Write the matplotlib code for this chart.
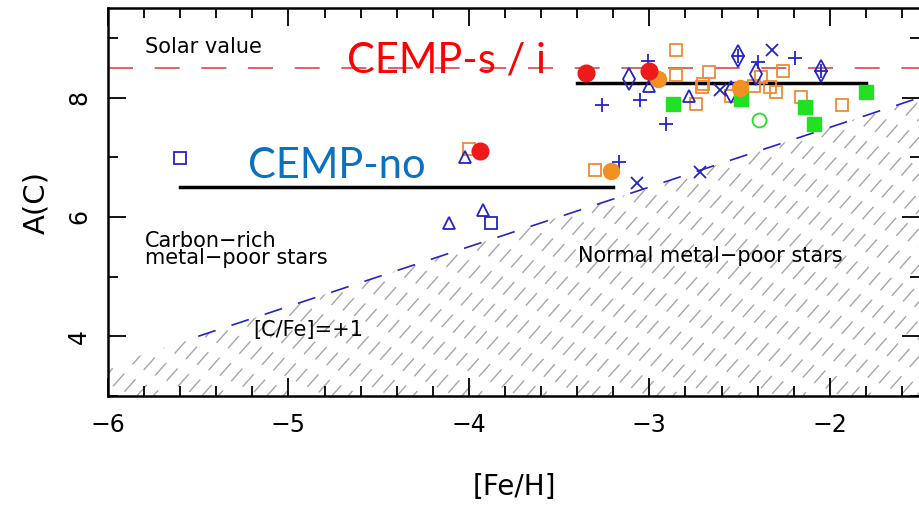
import numpy as np
import matplotlib
matplotlib.use("Agg")
import matplotlib.pyplot as plt
from matplotlib.patches import Polygon
from matplotlib.ticker import MultipleLocator

# carbon abundance A(C) against metallicity [Fe/H]
red_fe = [-3.35, -3.00, -3.94]
red_ac = [8.41, 8.44, 7.10]

orange_circ_fe = [-2.95, -2.50, -3.21]
orange_circ_ac = [8.31, 8.16, 6.77]

orange_sq_fe = [-2.85, -2.85, -2.74, -2.71, -2.70, -2.67, -2.55, -2.42,
                -2.38, -2.33, -2.30, -2.26, -2.16, -1.93, -4.00, -3.30]
orange_sq_ac = [8.80, 8.37, 7.89, 8.18, 8.23, 8.42, 8.03, 8.20,
                8.34, 8.17, 8.09, 8.44, 8.01, 7.87, 7.14, 6.78]

green_sq_fe = [-2.87, -2.49, -2.14, -2.09, -1.80]
green_sq_ac = [7.89, 7.98, 7.84, 7.55, 8.09]

green_open_fe = [-2.39]
green_open_ac = [7.62]

blue_plus_fe = [-3.01, -3.26, -3.05, -2.91, -2.40, -2.19, -3.17]
blue_plus_ac = [8.61, 7.87, 7.96, 7.56, 8.59, 8.66, 6.92]

blue_x_fe = [-2.61, -2.32, -3.07, -2.72]
blue_x_ac = [8.13, 8.80, 6.56, 6.75]

blue_tri_fe = [-2.78, -4.02, -4.11, -3.92, -3.00]
blue_tri_ac = [8.03, 7.00, 5.89, 6.11, 8.20]

blue_sq_fe = [-5.60, -3.88]
blue_sq_ac = [6.99, 5.90]

blue_dia_fe = [-3.11, -2.41, -2.55]
blue_dia_ac = [8.31, 8.40, 8.10]

blue_diaplus_fe = [-2.51, -2.05]
blue_diaplus_ac = [8.70, 8.44]

# mean levels of the two groups
cemp_s_range = [-3.40, -1.80]
cemp_s_level = 8.25
cemp_no_range = [-5.60, -3.20]
cemp_no_level = 6.50

solar_ac = 8.5
cfe_offset = 9.5   # A(C) = [Fe/H] + 9.5 for [C/Fe]=+1

xmin, xmax = -6.0, -1.5
ymin, ymax = 3.0, 9.5

BLUE = "#2424c4"
ORANGE = "#ef8a35"
GREEN = "#22e022"
RED = "#ee1a1a"

fig = plt.figure(figsize=(9.2, 5.09), dpi=100)
ax = fig.add_axes([108 / 920, 113 / 509, 1 - 108 / 920, (396 - 8) / 509])
ax.set_xlim(xmin, xmax)
ax.set_ylim(ymin, ymax)

# hatched zone below [C/Fe]=+1, drawn as broken diagonal strokes
region = Polygon([(xmin, ymin), (xmin, xmin + cfe_offset),
                  (xmax, xmax + cfe_offset), (xmax, ymin)],
                 closed=True, facecolor="none", edgecolor="none")
ax.add_patch(region)
slope = 3.4
yy = np.array([ymin, ymax])
for k, x0 in enumerate(np.arange(-8.0, xmax + 0.1, 0.09)):
    ln, = ax.plot(x0 + (yy - ymin) / slope, yy, color="#a6a6a6", lw=1.0,
                  dash_capstyle="butt", zorder=1)
    ln.set_linestyle(((k * 5.3) % 21, (12, 9)))
    ln.set_clip_path(region)

xs = np.array([-5.5, xmax])
ax.plot(xs, xs + cfe_offset, color=BLUE, lw=1.2, dashes=(11, 10), zorder=2)
ax.axhline(solar_ac, color="#d84a4a", lw=1.2, dashes=(15, 13), zorder=2)

ax.plot(cemp_s_range, [cemp_s_level] * 2, color="black", lw=2.5, zorder=3)
ax.plot(cemp_no_range, [cemp_no_level] * 2, color="black", lw=2.5, zorder=3)

ax.plot(orange_sq_fe, orange_sq_ac, "s", ms=8, mfc="none", mec=ORANGE, mew=1.3, ls="none", zorder=4)
ax.plot(blue_plus_fe, blue_plus_ac, "+", ms=10, mec=BLUE, mew=1.3, ls="none", zorder=4)
ax.plot(blue_x_fe, blue_x_ac, "x", ms=8, mec=BLUE, mew=1.3, ls="none", zorder=4)
ax.plot(blue_tri_fe, blue_tri_ac, "^", ms=8.5, mfc="none", mec=BLUE, mew=1.3, ls="none", zorder=4)
ax.plot(blue_sq_fe, blue_sq_ac, "s", ms=8, mfc="none", mec=BLUE, mew=1.3, ls="none", zorder=4)
ax.plot(blue_dia_fe, blue_dia_ac, "d", ms=11, mfc="none", mec=BLUE, mew=1.3, ls="none", zorder=4)
ax.plot(blue_diaplus_fe, blue_diaplus_ac, "d", ms=11, mfc="none", mec=BLUE, mew=1.3, ls="none", zorder=4)
ax.plot(blue_diaplus_fe, blue_diaplus_ac, "+", ms=10, mec=BLUE, mew=1.3, ls="none", zorder=4)
ax.plot(green_sq_fe, green_sq_ac, "s", ms=9.5, mfc=GREEN, mec=GREEN, ls="none", zorder=5)
ax.plot(green_open_fe, green_open_ac, "o", ms=10, mfc="none", mec=GREEN, mew=1.3, ls="none", zorder=5)
ax.plot(orange_circ_fe, orange_circ_ac, "o", ms=11.5, mfc="#f39022", mec="#f39022", ls="none", zorder=6)
ax.plot(red_fe, red_ac, "o", ms=12, mfc=RED, mec=RED, ls="none", zorder=6)

# labels inside the panel
txt = dict(fontsize=15, color="black", family="DejaVu Sans")
ax.text(-5.795, 8.84, "Solar value", va="center", ha="left", **txt)
ax.text(-5.795, 5.46, "Carbon\u2212rich\nmetal\u2212poor stars", va="center",
        ha="left", linespacing=0.8, **txt)
ax.text(-3.396, 5.34, "Normal metal\u2212poor stars", va="center", ha="left", **txt)
ax.text(-5.197, 4.10, "[C/Fe]=+1", va="center", ha="left", **txt)

ax.text(-4.122, 8.62, "CEMP-s / i", color="#ff0000", fontsize=30,
        family="Lato", ha="center", va="center", zorder=7)
ax.text(-4.731, 6.86, "CEMP-no", color="#0a70c0", fontsize=30,
        family="Lato", ha="center", va="center", zorder=7)

ax.xaxis.set_major_locator(MultipleLocator(1))
ax.xaxis.set_minor_locator(MultipleLocator(0.2))
ax.yaxis.set_major_locator(MultipleLocator(2))
ax.yaxis.set_minor_locator(MultipleLocator(1))
ax.tick_params(which="both", direction="in", top=True, right=True, width=1.3)
ax.tick_params(which="major", length=13, labelsize=17, pad=12)
ax.tick_params(which="minor", length=7)
for lab in ax.get_yticklabels():
    lab.set_rotation(90)
    lab.set_va("center")
for sp in ax.spines.values():
    sp.set_linewidth(1.8)

ax.set_xlabel("[Fe/H]", fontsize=20, labelpad=26)
ax.set_ylabel("A(C)", fontsize=21, labelpad=12)

fig.savefig("out.png", dpi=100)
